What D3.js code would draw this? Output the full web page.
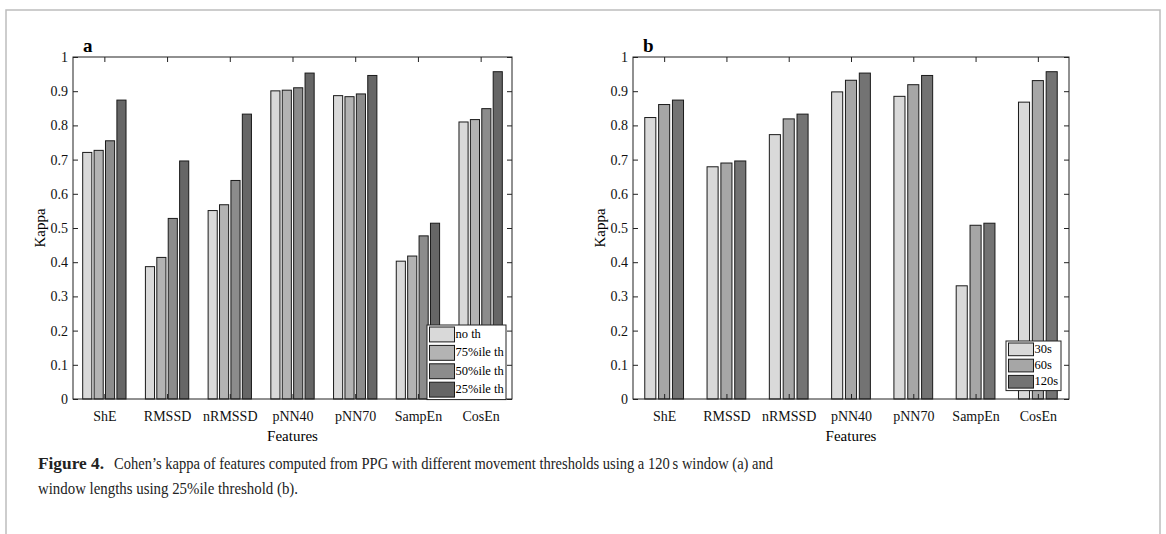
<!DOCTYPE html>
<html>
<head>
<meta charset="utf-8">
<script src="https://cdn.jsdelivr.net/npm/d3@7"></script>
<style>
    body { margin: 0; background: #fff; }
    svg { display: block; font-family: "Liberation Serif", "Times New Roman", serif; }
</style>
</head>
<body>
<script>
var features = ["ShE", "RMSSD", "nRMSSD", "pNN40", "pNN70", "SampEn", "CosEn"];
var yTicks = [0, 0.1, 0.2, 0.3, 0.4, 0.5, 0.6, 0.7, 0.8, 0.9, 1];

// panel a: movement thresholds, 120 s window
var thresholdNames = ["no th", "75%ile th", "50%ile th", "25%ile th"];
var noTh = [0.721, 0.387, 0.551, 0.901, 0.887, 0.403, 0.810];
var th75 = [0.727, 0.414, 0.568, 0.903, 0.884, 0.418, 0.817];
var th50 = [0.755, 0.528, 0.639, 0.910, 0.892, 0.477, 0.849];
var th25 = [0.874, 0.696, 0.833, 0.953, 0.946, 0.514, 0.957];

// panel b: window lengths, 25%ile threshold
var windowNames = ["30s", "60s", "120s"];
var win30 = [0.823, 0.679, 0.773, 0.898, 0.885, 0.331, 0.868];
var win60 = [0.861, 0.690, 0.819, 0.932, 0.919, 0.508, 0.931];
var win120 = [0.874, 0.696, 0.833, 0.953, 0.946, 0.514, 0.957];

var svg = d3.select("body").append("svg")
    .attr("width", 1166)
    .attr("height", 534);

// figure frame
svg.append("path")
    .attr("d", "M6,534 V10 H1160 V534")
    .attr("fill", "none")
    .attr("stroke", "#bdbdbd")
    .attr("stroke-width", 1.5);

makeBarPanel({
    letter: "a",
    left: 73, right: 512, top: 57, bottom: 399,
    series: [noTh, th75, th50, th25],
    names: thresholdNames,
    colors: ["#d9d9d9", "#b3b3b3", "#8c8c8c", "#666666"],
    legend: { x: 427, y: 325, w: 79, rowH: 18.4 }
});
makeBarPanel({
    letter: "b",
    left: 633, right: 1069, top: 57, bottom: 399,
    series: [win30, win60, win120],
    names: windowNames,
    colors: ["#d9d9d9", "#a6a6a6", "#737373"],
    legend: { x: 1006, y: 341, w: 55, rowH: 16.2 }
});

function makeBarPanel(options) {
    var g = svg.append("g");
    var width = options.right - options.left;
    var height = options.bottom - options.top;
    var x = d3.scaleLinear().domain([0.5, features.length + 0.5]).range([options.left, options.right]);
    var y = d3.scaleLinear().domain([0, 1]).range([options.bottom, options.top]);

    var n = options.series.length;
    var groupWidth = Math.min(0.8, n / (n + 1.5));
    var step = groupWidth / n;
    var barWidth = 0.8 * step;

    // bars
    options.series.forEach(function (values, s) {
        g.append("g").selectAll("rect")
            .data(values)
            .join("rect")
            .attr("x", (d, i) => x(i + 1 - groupWidth / 2 + (s + 0.5) * step - barWidth / 2))
            .attr("width", x(barWidth) - x(0))
            .attr("y", d => y(d))
            .attr("height", d => y(0) - y(d))
            .attr("fill", options.colors[s])
            .attr("stroke", "#1a1a1a")
            .attr("stroke-width", 1);
    });

    // axes, ticks pointing inward like matlab
    var catTicks = d3.range(1, features.length + 1);
    var axisStyle = function (sel) {
        sel.attr("font-family", null).attr("font-size", null);
        sel.selectAll("text")
            .style("font-family", "'Liberation Serif', 'Times New Roman', serif")
            .style("font-size", "14px")
            .attr("fill", "#111");
        sel.selectAll("line").attr("stroke", "#222");
        sel.select(".domain").remove();
    };
    g.append("g").attr("transform", "translate(0," + options.bottom + ")")
        .call(d3.axisBottom(x).tickValues(catTicks).tickFormat(d => features[d - 1]).tickSizeInner(-5).tickSizeOuter(0).tickPadding(12))
        .call(axisStyle);
    g.append("g").attr("transform", "translate(0," + options.top + ")")
        .call(d3.axisTop(x).tickValues(catTicks).tickFormat("").tickSizeInner(-5).tickSizeOuter(0))
        .call(axisStyle);
    g.append("g").attr("transform", "translate(" + options.left + ",0)")
        .call(d3.axisLeft(y).tickValues(yTicks).tickFormat(d3.format("")).tickSizeInner(-5).tickSizeOuter(0).tickPadding(5))
        .call(axisStyle);
    g.append("g").attr("transform", "translate(" + options.right + ",0)")
        .call(d3.axisRight(y).tickValues(yTicks).tickFormat("").tickSizeInner(-5).tickSizeOuter(0))
        .call(axisStyle);

    g.append("rect")
        .attr("x", options.left).attr("y", options.top)
        .attr("width", width).attr("height", height)
        .attr("fill", "none").attr("stroke", "#222").attr("stroke-width", 1);

    g.append("text")
        .attr("x", options.left + 10).attr("y", options.top - 5)
        .attr("font-size", 19).attr("font-weight", "bold")
        .text(options.letter);

    g.append("text")
        .attr("transform", "translate(" + (options.left - 33) + "," + (options.top + height / 2) + ") rotate(-90)")
        .attr("dy", "0.35em")
        .attr("text-anchor", "middle")
        .attr("font-size", 15)
        .text("Kappa");

    g.append("text")
        .attr("x", options.left + width / 2).attr("y", options.bottom + 42)
        .attr("text-anchor", "middle")
        .attr("font-size", 15)
        .text("Features");

    // legend
    var lg = options.legend;
    var legend = g.append("g").attr("transform", "translate(" + lg.x + "," + lg.y + ")");
    legend.append("rect")
        .attr("width", lg.w).attr("height", lg.rowH * n + 1)
        .attr("fill", "#fff").attr("stroke", "#222").attr("stroke-width", 1);
    options.names.forEach(function (name, s) {
        legend.append("rect")
            .attr("x", 2.5).attr("y", 2 + s * lg.rowH)
            .attr("width", 25).attr("height", lg.rowH - 3.5)
            .attr("fill", options.colors[s]).attr("stroke", "#1a1a1a").attr("stroke-width", 1);
        legend.append("text")
            .attr("x", 28.5).attr("y", s * lg.rowH + lg.rowH / 2 + 1)
            .attr("dominant-baseline", "middle")
            .attr("font-size", 12.5)
            .text(name);
    });
}

// caption
var caption = svg.append("g").attr("font-family", "Liberation Serif").attr("font-size", 17).attr("fill", "#222");
caption.append("text").attr("x", 38).attr("y", 469)
    .attr("font-weight", "bold")
    .attr("textLength", 66).attr("lengthAdjust", "spacingAndGlyphs")
    .text("Figure 4.");
caption.append("text").attr("x", 114).attr("y", 469)
    .attr("textLength", 659).attr("lengthAdjust", "spacingAndGlyphs")
    .text("Cohen\u2019s kappa of features computed from PPG with different movement thresholds using a 120\u2009s window (a) and");
caption.append("text").attr("x", 38).attr("y", 494)
    .attr("textLength", 260).attr("lengthAdjust", "spacingAndGlyphs")
    .text("window lengths using 25%ile threshold (b).");
</script>
</body>
</html>
